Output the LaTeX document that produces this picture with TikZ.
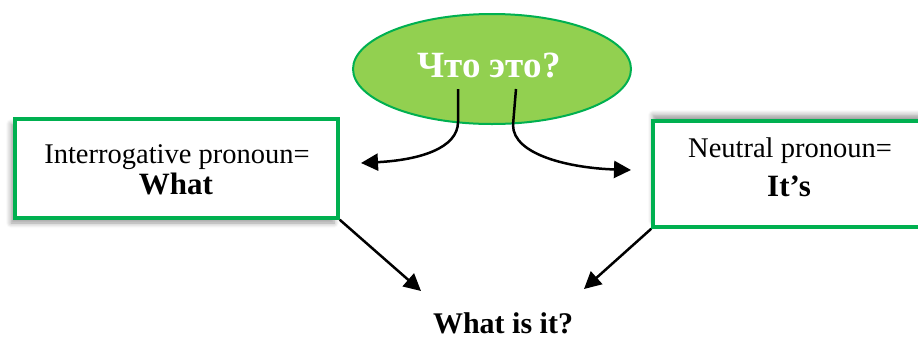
\documentclass[tikz,border=0pt]{standalone}
\usepackage{fontspec}
\setmainfont{Liberation Serif}
\usetikzlibrary{shapes.geometric,arrows.meta,shadows.blur}
\definecolor{lgreen}{HTML}{92D050}
\definecolor{dgreen}{HTML}{00B050}
\tikzset{
  box/.style={draw=dgreen, line width=3.5pt, fill=white, inner sep=0pt},
  txt/.style={font=\fontsize{28.5}{34}\selectfont, anchor=base, inner sep=0pt},
  btxt/.style={font=\fontsize{31}{36}\selectfont\bfseries, anchor=base, inner sep=0pt},
  conn/.style={line width=2.5pt, -{Triangle[length=17pt,width=17pt]}},
}
\begin{document}
\begin{tikzpicture}[x=1pt,y=-1pt]
\useasboundingbox (0,0) rectangle (918,338);
% boxes
\node[box, minimum width=323pt, minimum height=99pt,
  blur shadow={shadow xshift=-4pt, shadow yshift=-5pt, shadow blur steps=6, shadow blur radius=5pt}] (lbox) at (176.5,168.5) {};
\node[box, minimum width=274pt, minimum height=106pt,
  blur shadow={shadow xshift=0pt, shadow yshift=6pt, shadow blur steps=6, shadow blur radius=5pt}] (rbox) at (790,174) {};
% ellipse
\node[ellipse, draw=dgreen, line width=2pt, fill=lgreen, minimum width=278pt, minimum height=110pt, inner sep=0pt] (q) at (492,69) {};
\node[font=\fontsize{37}{40}\selectfont\bfseries, text=white, anchor=base, inner sep=0pt] (qt) at (489,77) {Что это?};
% texts
\node[txt] (l1) at (177,163) {Interrogative pronoun=};
\node[btxt] (l2) at (176,194) {What};
\node[txt] (r1) at (790,157) {Neutral pronoun=};
\node[btxt] (r2) at (789,196) {It’s};
\node[btxt, font=\fontsize{30}{34}\selectfont\bfseries] (res) at (503,333) {What is it?};
% connector points
\coordinate (ls) at (458,89);
\coordinate (lm) at (458,122);
\coordinate (lt) at (361,163);
\coordinate (rs) at (516,89);
\coordinate (rm) at (513,125);
\coordinate (rt) at (631,170);
\coordinate (dl) at (421,291);
\coordinate (dr) at (584,289);
% connectors
\draw[conn] (ls) -- (lm) .. controls (458,148) and (420,160) .. (lt);
\draw[conn] (rs) -- (rm) .. controls (513,155) and (570,168) .. (rt);
\draw[conn] (lbox.south east) -- (dl);
\draw[conn] (rbox.south west) -- (dr);
\end{tikzpicture}
\end{document}
